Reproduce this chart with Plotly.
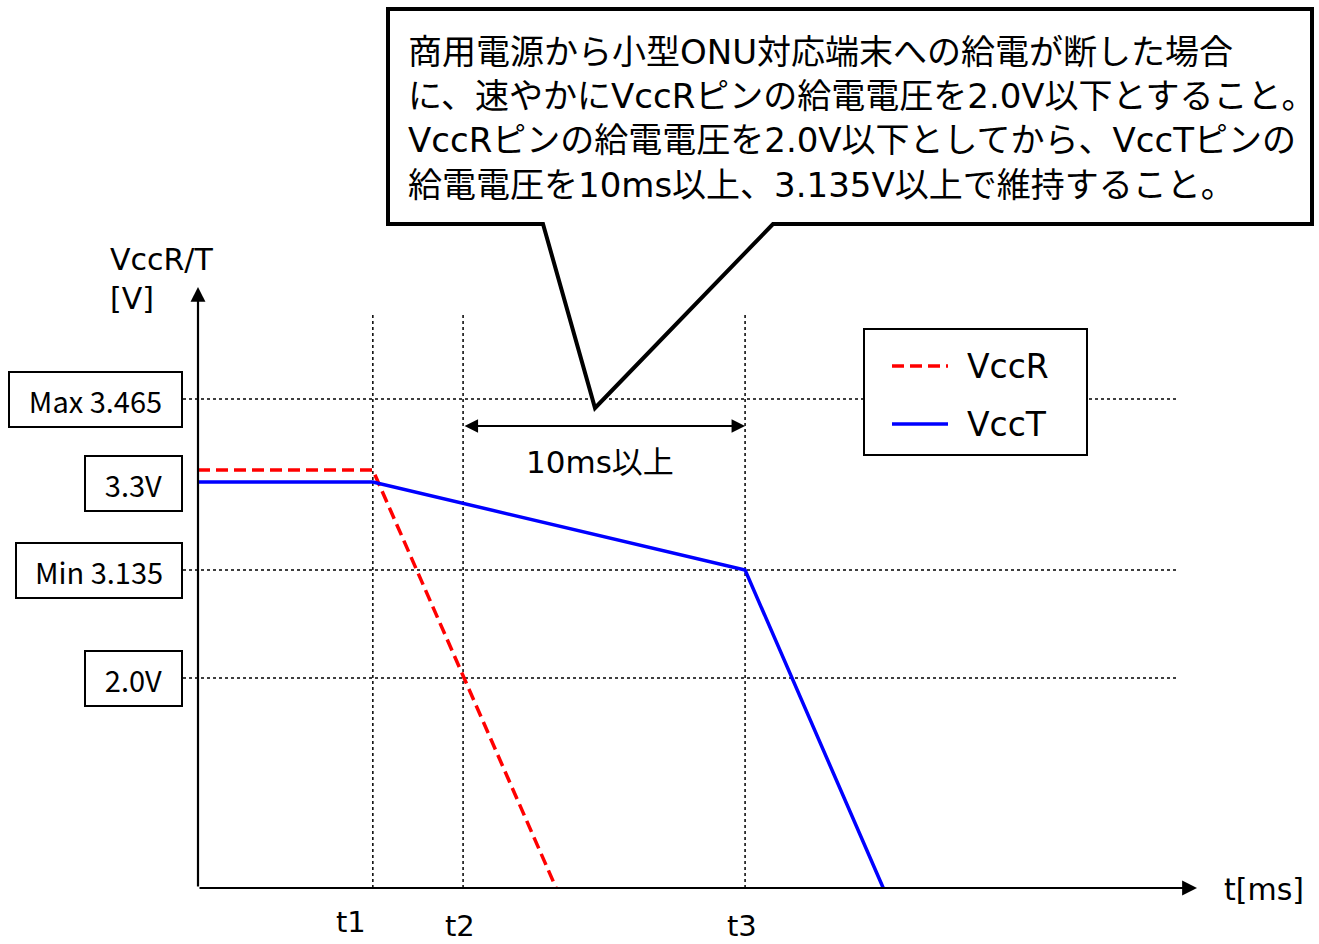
import plotly.graph_objects as go

# ---- data (schematic units: time in ms-like units, voltage as schematic level) ----
t_names = ["t1", "t2", "t3"]
t_marks = [6.2, 9.4, 19.4]

vccr_t = [0.0, 6.2, 12.7]
vccr_y = [4.18, 4.18, 0.0]
vcct_t = [0.0, 6.2, 19.4, 24.3]
vcct_y = [4.06, 4.06, 3.18, 0.0]

level_labels = ["Max 3.465", "3.3V", "Min 3.135", "2.0V"]
level_pos = [4.89, 4.045, 3.18, 2.10]
level_guide = [True, False, True, True]

series_names = ["VccR", "VccT"]
span_label = "10ms以上"
callout_lines = [
    "商用電源から小型ONU対応端末への給電が断した場合",
    "に、速やかにVccRピンの給電電圧を2.0V以下とすること。",
    "VccRピンの給電電圧を2.0V以下としてから、VccTピンの",
    "給電電圧を10ms以上、3.135V以上で維持すること。",
]

# ---- layout helpers (screen pixel -> schematic units) ----
W, H = 1319, 944
X0, Y0, SX, SY = 198, 888, 28.2, 100.0
def X(px): return (px - X0) / SX
def Y(py): return (Y0 - py) / SY

FONT = "DejaVu Sans, Noto Sans CJK JP"
FONT_N = "Noto Sans CJK JP"
RED, BLUE = "#FF0000", "#0000FF"

fig = go.Figure()
fig.add_trace(go.Scatter(x=vccr_t, y=vccr_y, mode="lines", name=series_names[0],
                         line=dict(color=RED, width=3.5, dash="12px,6px"), showlegend=False))
fig.add_trace(go.Scatter(x=vcct_t, y=vcct_y, mode="lines", name=series_names[1],
                         line=dict(color=BLUE, width=3.5), showlegend=False))

shapes = []
for lab, pos, g in zip(level_labels, level_pos, level_guide):
    if g:
        shapes.append(dict(type="line", xref="x", yref="y", x0=X(183), x1=X(1177), y0=pos, y1=pos,
                           line=dict(color="black", width=1.5, dash="dot"), layer="below"))
for t in t_marks:
    shapes.append(dict(type="line", xref="x", yref="y", x0=t, x1=t, y0=0, y1=Y(315),
                       line=dict(color="black", width=1.5, dash="dot"), layer="below"))
# legend box
shapes.append(dict(type="rect", xref="x", yref="y", x0=X(864), x1=X(1087), y0=Y(329), y1=Y(455),
                   fillcolor="white", line=dict(color="black", width=2), layer="above"))
shapes.append(dict(type="line", xref="x", yref="y", x0=X(892), x1=X(948), y0=Y(366), y1=Y(366),
                   line=dict(color=RED, width=3.5, dash="12px,6px"), layer="above"))
shapes.append(dict(type="line", xref="x", yref="y", x0=X(892), x1=X(948), y0=Y(424), y1=Y(424),
                   line=dict(color=BLUE, width=3.5), layer="above"))
# callout bubble
pts = [(388, 9), (1312, 9), (1312, 224), (773, 224), (595, 408), (543, 224), (388, 224)]
path = "M " + " L ".join(f"{X(a):.4f},{Y(b):.4f}" for a, b in pts) + " Z"
shapes.append(dict(type="path", xref="x", yref="y", path=path, fillcolor="white",
                   line=dict(color="black", width=4), layer="above"))

ann = []
ann.append(dict(x=X(1197), y=0, ax=0, ay=0, xref="x", yref="y", axref="x", ayref="y", text="",
                showarrow=True, arrowhead=2, arrowsize=1.35, arrowwidth=2.2, arrowcolor="black"))
ann.append(dict(x=0, y=Y(287), ax=0, ay=0, xref="x", yref="y", axref="x", ayref="y", text="",
                showarrow=True, arrowhead=2, arrowsize=1.35, arrowwidth=2.2, arrowcolor="black"))
ann.append(dict(x=t_marks[2], y=Y(426), ax=t_marks[1], ay=Y(426), xref="x", yref="y", axref="x", ayref="y",
                text="", showarrow=True, arrowhead=2, arrowside="end+start", arrowsize=1.35,
                arrowwidth=2, arrowcolor="black"))
ann.append(dict(x=X(600), y=Y(462), xref="x", yref="y", text=span_label, showarrow=False,
                font=dict(family=FONT, size=31, color="black")))
ann.append(dict(x=X(108), y=Y(279), xref="x", yref="y", text="VccR/T<br>[V]", showarrow=False,
                xanchor="left", align="left", font=dict(family=FONT, size=30, color="black")))
ann.append(dict(x=X(1222), y=Y(889), xref="x", yref="y", text="t[ms]", showarrow=False,
                xanchor="left", font=dict(family=FONT, size=30, color="black")))
for name, t, dx, py in zip(t_names, t_marks, [-22, -3, -3], [922, 926, 926]):
    ann.append(dict(x=t, y=Y(py), xref="x", yref="y", xshift=dx, text=name, showarrow=False,
                    font=dict(family=FONT, size=29, color="black")))
box_w = {"Max 3.465": 175, "3.3V": 99, "Min 3.135": 168, "2.0V": 99}
for lab, pos in zip(level_labels, level_pos):
    ann.append(dict(x=X(183), y=pos, xref="x", yref="y", xanchor="right", text=lab, showarrow=False,
                    width=box_w[lab] - 4, height=53, align="center", valign="middle",
                    bordercolor="black", borderwidth=2, borderpad=0, bgcolor="white",
                    font=dict(family=FONT_N, size=29, color="black")))
for name, py in zip(series_names, [366, 424]):
    ann.append(dict(x=X(965), y=Y(py), xref="x", yref="y", xanchor="left", text=name, showarrow=False,
                    font=dict(family=FONT, size=33, color="black")))
ann.append(dict(x=X(406), y=Y(118), xref="x", yref="y", xanchor="left", yanchor="middle", align="left",
                text="<br>".join(callout_lines), showarrow=False,
                font=dict(family=FONT, size=34, color="black")))

fig.update_layout(
    width=W, height=H, margin=dict(l=0, r=0, t=0, b=0),
    paper_bgcolor="white", plot_bgcolor="white",
    xaxis=dict(range=[X(0), X(W)], visible=False, showgrid=False, zeroline=False, fixedrange=True),
    yaxis=dict(range=[Y(H), Y(0)], visible=False, showgrid=False, zeroline=False, fixedrange=True),
    shapes=shapes, annotations=ann, showlegend=False, hovermode=False,
)
fig.write_html("out.html", config={"displayModeBar": False, "staticPlot": True},
               post_script="document.body.style.margin='0';document.body.style.overflow='hidden';")
